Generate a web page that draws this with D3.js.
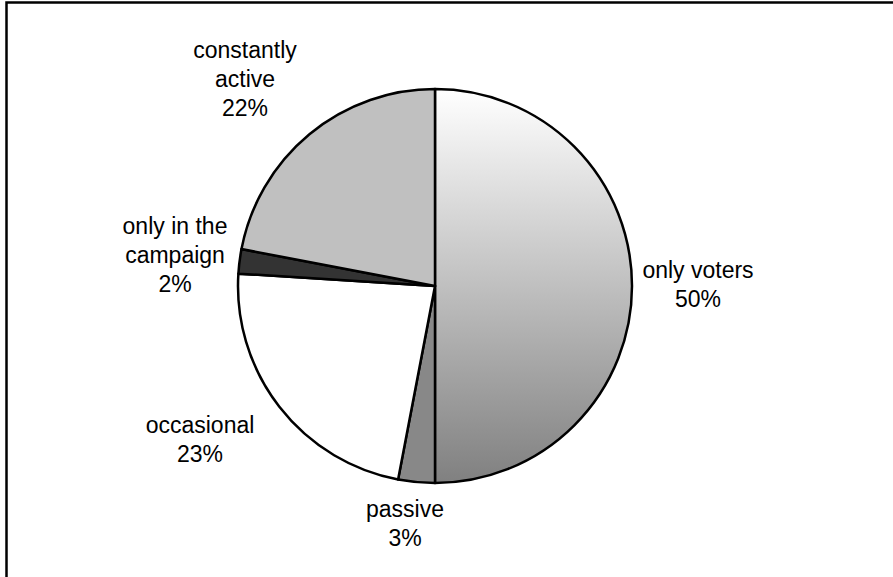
<html>
<head>
  <meta charset="utf-8">
  <style type="text/css">
    body { margin: 0; background: #fff; }
    .slice { stroke: #000; stroke-width: 2.5; stroke-linejoin: round; }
    .label { font-family: "Liberation Sans", Arial, sans-serif; font-size: 23px; fill: #000; }
  </style>
</head>
<body>
<script src="https://d3js.org/d3.v7.min.js"></script>
<script>
  // data
  var categories = ["only voters", "passive", "occasional", "only in the campaign", "constantly active"];
  var values = [50, 3, 23, 2, 22];
  var labelLines = [["only voters", "50%"], ["passive", "3%"], ["occasional", "23%"],
                    ["only in the", "campaign", "2%"], ["constantly", "active", "22%"]];

  // layout
  var width = 893, height = 577;
  var cx = 435, cy = 286, r = 197;
  var fills = ["url(#voters)", "#888888", "#ffffff", "#333333", "#c0c0c0"];
  // label block: x of center, first baseline (relative to pie center)
  var labelOffset = [[263, -8], [-30, 231], [-235, 147], [-260, -52], [-190, -228]];
  var lineHeight = 29;

  var svg = d3.select("body").append("svg")
    .attr("width", width)
    .attr("height", height);

  // frame (only top and left edges fall inside the picture)
  svg.append("rect")
    .attr("x", 6.5).attr("y", 2.5)
    .attr("width", width + 20).attr("height", height + 20)
    .attr("fill", "none")
    .attr("stroke", "#000")
    .attr("stroke-width", 2.5);

  var g = svg.append("g").attr("transform", "translate(" + cx + "," + cy + ")");

  var grad = svg.append("defs").append("linearGradient")
    .attr("id", "voters")
    .attr("gradientUnits", "userSpaceOnUse")
    .attr("x1", 0).attr("y1", -r)
    .attr("x2", 0).attr("y2", r);
  grad.append("stop").attr("offset", "0%").attr("stop-color", "#ffffff");
  grad.append("stop").attr("offset", "100%").attr("stop-color", "#808080");

  var pie = d3.pie().sort(null).value(function (d) { return d; });
  var arc = d3.arc().innerRadius(0).outerRadius(r);
  var arcs = pie(values);

  g.selectAll("path")
    .data(arcs)
    .enter()
    .append("path")
    .attr("class", "slice")
    .attr("fill", function (d, i) { return fills[i]; })
    .attr("d", arc);

  var labels = g.selectAll("text.label")
    .data(arcs)
    .enter()
    .append("text")
    .attr("class", "label")
    .attr("text-anchor", "middle");

  labels.each(function (d, i) {
    var t = d3.select(this);
    labelLines[i].forEach(function (line, k) {
      t.append("tspan")
        .attr("x", labelOffset[i][0])
        .attr("y", labelOffset[i][1] + k * lineHeight)
        .text(line);
    });
  });
</script>
</body>
</html>
